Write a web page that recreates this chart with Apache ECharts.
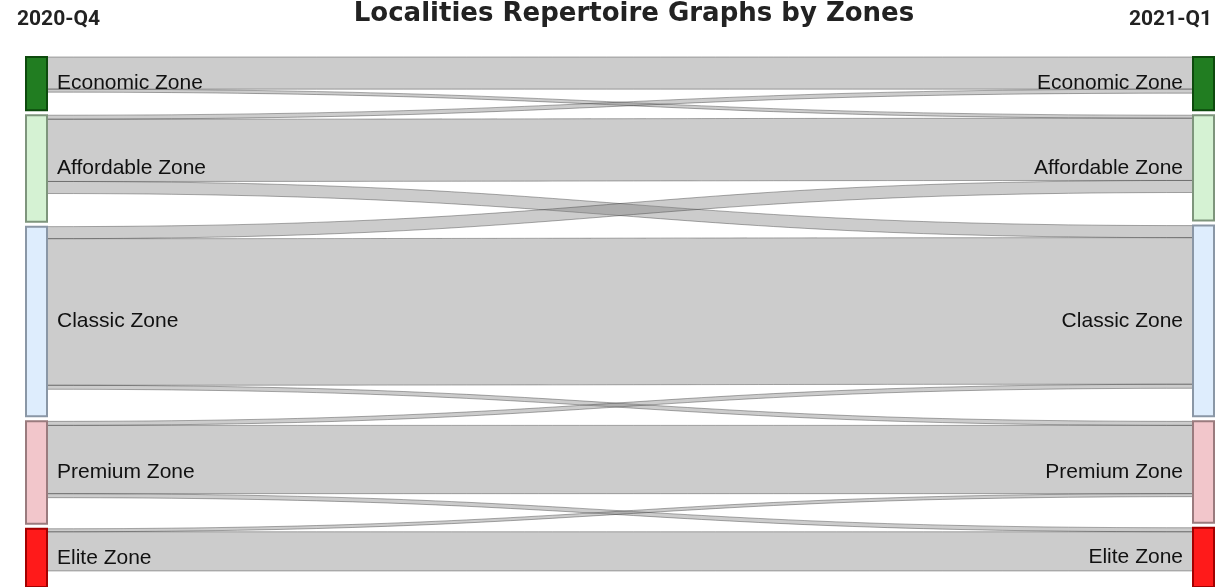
<!DOCTYPE html>
<html>
<head>
<meta charset="utf-8">
<script src="https://cdn.jsdelivr.net/npm/echarts@6/dist/echarts.min.js"></script>
<style>
  html, body { margin: 0; padding: 0; background: #fff; }
  #chart { width: 1229px; height: 587px; }
</style>
</head>
<body>
<div id="chart"></div>
<script>
// quarters (columns) and zones (rows)
const quarters = ['2020-Q4', '2021-Q1'];
const zones = ['Economic Zone', 'Affordable Zone', 'Classic Zone', 'Premium Zone', 'Elite Zone'];

// zone totals per quarter (node sizes)
const totalsQ4 = [53, 106, 189, 102, 58];
const totalsQ1 = [53, 105, 190, 101, 59];

// flows from 2020-Q4 zone -> 2021-Q1 zone
const linkFrom  = ['Economic Zone', 'Economic Zone', 'Affordable Zone', 'Affordable Zone', 'Affordable Zone',
                   'Classic Zone', 'Classic Zone', 'Classic Zone', 'Premium Zone', 'Premium Zone', 'Premium Zone',
                   'Elite Zone', 'Elite Zone'];
const linkTo    = ['Economic Zone', 'Affordable Zone', 'Economic Zone', 'Affordable Zone', 'Classic Zone',
                   'Premium Zone', 'Affordable Zone', 'Classic Zone', 'Elite Zone', 'Premium Zone', 'Classic Zone',
                   'Elite Zone', 'Premium Zone'];
const linkValue = [32, 3, 4, 62, 12,
                   4, 12, 146, 4, 68, 4,
                   39, 3];

const zoneFill   = ['#217d21', '#d5f2d3', '#deedfd', '#f2c6cb', '#ff1a1a'];
const zoneBorder = ['#0d4a0d', '#7e957c', '#8a97a6', '#9a7b7e', '#a30000'];

const nodes = [];
[totalsQ4, totalsQ1].forEach(function (totals, qi) {
    zones.forEach(function (z, zi) {
        nodes.push({
            name: quarters[qi] + '|' + z,
            value: totals[zi],
            itemStyle: { color: zoneFill[zi], borderColor: zoneBorder[zi], borderWidth: 2 },
            label: { position: qi === 0 ? 'right' : 'left' }
        });
    });
});
const links = linkFrom.map(function (f, i) {
    return { source: quarters[0] + '|' + f, target: quarters[1] + '|' + linkTo[i], value: linkValue[i] };
});

const chart = echarts.init(document.getElementById('chart'));
chart.setOption({
    animation: false,
    graphic: [
        { type: 'text', x: 634, y: 14, style: { text: 'Localities Repertoire Graphs by Zones', font: 'bold 26px "DejaVu Sans"', fill: '#222', textAlign: 'center', textVerticalAlign: 'middle' } },
        { type: 'text', x: 17, y: 20, style: { text: quarters[0], font: 'bold 21px Roboto', fill: '#222', textAlign: 'left', textVerticalAlign: 'middle' } },
        { type: 'text', x: 1212, y: 20, style: { text: quarters[1], font: 'bold 21px Roboto', fill: '#222', textAlign: 'right', textVerticalAlign: 'middle' } }
    ],
    series: [{
        type: 'sankey',
        left: 26,
        right: 15,
        top: 57,
        bottom: 0,
        nodeWidth: 21,
        nodeGap: 5,
        layoutIterations: 0,
        draggable: false,
        emphasis: { disabled: true },
        data: nodes,
        links: links,
        label: {
            color: '#111',
            fontFamily: 'Liberation Sans',
            fontSize: 21,
            distance: 9,
            formatter: function (p) { return p.name.split('|')[1]; }
        },
        lineStyle: {
            color: '#808080',
            opacity: 0.4,
            borderColor: '#333',
            borderWidth: 1,
            curveness: 0.5
        }
    }]
});
</script>
</body>
</html>
